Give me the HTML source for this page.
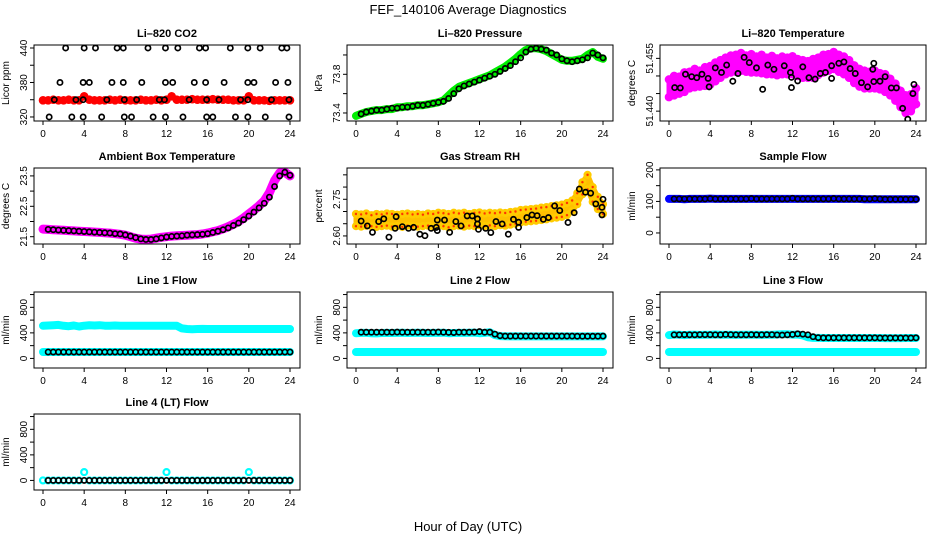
<!DOCTYPE html>
<html><head><meta charset="utf-8"><style>
html,body{margin:0;padding:0;background:#fff;}
svg{display:block;font-family:"Liberation Sans",Arial,sans-serif;}
</style></head><body>
<svg id="chart" width="936" height="540" viewBox="0 0 936 540" xmlns="http://www.w3.org/2000/svg">
<rect width="936" height="540" fill="#fff"/>
<text x="468" y="14" text-anchor="middle" font-size="13">FEF_140106  Average Diagnostics</text>
<text x="468" y="531" text-anchor="middle" font-size="13">Hour of Day (UTC)</text>
</svg>
<script>
// ---- shared x ticks ----
const xTicks = [0,4,8,12,16,20,24];

// ---- CO2 ----
const co2BlackT = [2.2,4.0,5.1,7.2,7.8,10.2,11.9,13.1,15.2,15.8,18.2,19.9,21.1,23.2,23.7,
 1.65,3.9,4.5,6.7,7.8,9.6,11.9,12.6,14.7,15.8,17.6,19.9,20.5,22.6,23.8,
 1.1,3.2,3.9,6.2,7.9,9.1,11.3,11.8,14.2,15.9,17.1,19.2,19.9,22.2,23.9,
 0.6,2.8,3.9,5.7,7.9,8.6,10.7,11.9,13.6,15.9,16.5,18.7,19.9,21.6,23.9];
const co2BlackV = [440,440,440,440,440,440,440,440,440,440,440,440,440,440,440,
 380,380,380,380,380,380,380,380,380,380,380,380,380,380,380,
 350,350,350,350,350,350,350,350,350,350,350,350,350,350,350,
 320,320,320,320,320,320,320,320,320,320,320,320,320,320,320];
const co2Red = [349,349,350,349,349,350,349,349,356,350,349,349,349,350,349,350,349,349,349,350,349,349,350,349,350,356,350,350,350,351,350,350,350,351,350,350,350,349,349,349,356,349,349,349,348,349,349,349,349];

// ---- Pressure ----
const presGreen = [73.37,73.39,73.41,73.42,73.43,73.43,73.44,73.44,73.46,73.46,73.47,73.47,73.48,73.48,73.49,73.50,73.51,73.53,73.58,73.63,73.67,73.69,73.71,73.73,73.75,73.77,73.79,73.82,73.85,73.88,73.92,73.96,74.01,74.05,74.07,74.07,74.06,74.04,74.01,73.98,73.95,73.94,73.94,73.95,73.96,74.00,74.03,73.98,73.96];
const presBlack = [73.39,73.41,73.42,73.43,73.43,73.44,73.45,73.45,73.46,73.46,73.47,73.48,73.48,73.49,73.50,73.51,73.52,73.55,73.60,73.65,73.68,73.70,73.72,73.74,73.76,73.78,73.80,73.83,73.86,73.89,73.93,73.97,74.03,74.06,74.07,74.06,74.05,74.02,74.00,73.96,73.94,73.93,73.94,73.95,73.97,74.02,74.00,73.97];

// ---- Li-820 Temperature ----
const tempHi = [51.4490,51.4500,51.4498,51.4510,51.4512,51.4520,51.4515,51.4525,51.4528,51.4538,51.4545,51.4552,51.4558,51.4560,51.4565,51.4558,51.4562,51.4555,51.4560,51.4552,51.4557,51.4550,51.4555,51.4552,51.4556,51.4548,51.4545,51.4542,51.4548,51.4552,51.4560,51.4562,51.4568,51.4560,51.4555,51.4545,51.4530,51.4520,51.4515,51.4512,51.4515,51.4508,51.4505,51.4492,51.4478,51.4458,51.4445,51.4448,51.4465];
const tempLo = [51.4440,51.4445,51.4450,51.4455,51.4465,51.4468,51.4470,51.4472,51.4475,51.4485,51.4495,51.4505,51.4510,51.4512,51.4515,51.4512,51.4510,51.4510,51.4508,51.4505,51.4505,51.4502,51.4505,51.4505,51.4505,51.4500,51.4495,51.4495,51.4495,51.4503,51.4510,51.4515,51.4520,51.4512,51.4505,51.4495,51.4480,51.4470,51.4465,51.4465,51.4465,51.4462,51.4455,51.4445,51.4430,51.4412,51.4395,51.4400,51.4420];
const tempBlackT = [0.55,1.1,1.6,2.2,2.7,3.2,3.8,3.9,4.5,5.1,5.6,6.2,6.7,7.3,7.8,8.5,9.1,9.6,10.2,11.2,11.8,11.9,11.9,12.5,13.0,13.6,14.2,14.7,15.2,15.8,15.8,16.5,17.0,17.6,18.1,18.7,19.3,19.8,19.9,19.9,20.5,21.0,21.6,22.1,22.7,23.2,23.7,23.8];
const tempBlackV = [51.4467,51.4466,51.4505,51.4498,51.4495,51.4505,51.4493,51.4469,51.4523,51.4510,51.4531,51.4485,51.4507,51.4553,51.4538,51.4523,51.4462,51.4531,51.4519,51.4529,51.4510,51.4496,51.4467,51.4486,51.4526,51.4495,51.4491,51.4507,51.4510,51.4493,51.4529,51.4536,51.4540,51.4521,51.4507,51.4481,51.4469,51.4519,51.4536,51.4484,51.4485,51.4498,51.4466,51.4466,51.4408,51.4377,51.4450,51.4476];

// ---- Ambient Box Temperature ----
const ambMag = [21.75,21.74,21.73,21.72,21.71,21.70,21.69,21.68,21.67,21.66,21.65,21.64,21.63,21.62,21.60,21.58,21.55,21.50,21.45,21.42,21.41,21.42,21.45,21.48,21.50,21.52,21.53,21.54,21.55,21.56,21.57,21.59,21.62,21.66,21.70,21.76,21.83,21.91,22.00,22.12,22.25,22.38,22.52,22.68,22.95,23.35,23.60,23.62,23.50];
const ambBlack = [21.74,21.73,21.72,21.71,21.70,21.69,21.68,21.67,21.66,21.65,21.64,21.63,21.62,21.60,21.59,21.56,21.52,21.47,21.43,21.41,21.41,21.43,21.46,21.49,21.51,21.52,21.53,21.55,21.56,21.57,21.58,21.60,21.64,21.68,21.73,21.79,21.87,21.95,22.06,22.18,22.31,22.45,22.60,22.80,23.15,23.50,23.62,23.52];

// ---- Gas Stream RH ----
const rhHi = [2.690,2.688,2.692,2.685,2.690,2.688,2.692,2.690,2.687,2.690,2.692,2.688,2.690,2.687,2.692,2.690,2.695,2.693,2.690,2.695,2.692,2.695,2.690,2.694,2.696,2.692,2.695,2.693,2.696,2.694,2.698,2.700,2.706,2.708,2.710,2.712,2.716,2.718,2.722,2.725,2.728,2.735,2.745,2.775,2.820,2.850,2.800,2.760,2.730];
const rhLo = [2.640,2.638,2.642,2.640,2.637,2.640,2.642,2.638,2.640,2.637,2.642,2.640,2.638,2.640,2.642,2.637,2.642,2.640,2.635,2.640,2.642,2.638,2.642,2.640,2.644,2.640,2.643,2.640,2.644,2.642,2.646,2.650,2.655,2.658,2.660,2.662,2.665,2.668,2.672,2.675,2.678,2.685,2.700,2.730,2.770,2.790,2.740,2.710,2.690];
const rhBlackT = [0.5,1.1,1.6,2.2,2.7,3.2,3.8,3.9,4.5,5.1,5.6,6.2,6.7,7.3,7.8,7.9,7.9,8.6,9.1,9.7,10.2,10.8,11.3,11.8,11.8,11.9,12.6,13.1,13.6,14.2,14.8,15.3,15.8,15.8,16.6,17.1,17.6,18.2,18.7,19.3,19.8,20.6,21.2,21.7,22.3,22.8,23.3,24.0,23.9,23.9];
const rhBlackV = [2.661,2.641,2.615,2.659,2.670,2.595,2.631,2.679,2.638,2.631,2.635,2.607,2.601,2.631,2.635,2.665,2.622,2.665,2.615,2.659,2.641,2.682,2.682,2.670,2.649,2.627,2.631,2.614,2.659,2.649,2.607,2.668,2.656,2.635,2.675,2.686,2.683,2.668,2.675,2.723,2.704,2.655,2.695,2.792,2.779,2.775,2.731,2.750,2.717,2.686];

// ---- Sample Flow ----
const sampleBlue = [108,108,108,107,108,108,108,108,109,108,108,108,108,108,108,108,108,108,108,108,108,108,108,108,108,108,108,108,108,108,108,108,108,108,108,108,108,108,107,107,107,107,107,107,107,107,107,107,107];
const sampleBlack = [108,108,108,108,108,108,108,109,108,108,108,108,108,108,108,109,108,108,108,108,108,108,108,110,108,108,108,108,108,108,108,109,108,108,108,108,108,108,108,109,108,107,107,107,107,107,107,107];

// ---- Line flows ----
const line1CyanHi = [510,515,520,525,510,505,515,500,512,518,515,520,512,510,515,510,512,510,512,510,510,510,510,510,510,510,510,470,460,458,460,462,460,460,460,460,460,460,460,460,460,460,460,460,460,460,460,460,460];
const line1CyanLo = [100,100,100,100,100,100,100,100,100,100,100,100,100,100,100,100,100,100,100,100,100,100,100,100,100,100,100,100,100,100,100,100,100,100,100,100,100,100,100,100,100,100,100,100,100,100,100,100,100];
const line1Black = [100,100,100,100,100,100,100,100,100,100,100,100,100,100,100,100,100,100,100,100,100,100,100,100,100,100,100,100,100,100,100,100,100,100,100,100,100,100,100,100,100,100,100,100,100,100,100,100];
const line2CyanHi = [395,400,400,395,392,398,400,398,400,402,398,400,402,400,398,400,400,402,395,398,400,400,402,405,395,400,410,365,350,348,345,348,345,345,345,345,345,345,345,345,345,345,345,345,345,345,345,345,345];
const line2CyanLo = [100,100,100,100,100,100,100,100,100,100,100,100,100,100,100,100,100,100,100,100,100,100,100,100,100,100,100,100,100,100,100,100,100,100,100,100,100,100,100,100,100,100,100,100,100,100,100,100,100];
const line2Black = [410,410,410,410,410,410,410,412,410,410,410,410,410,410,410,412,410,408,405,410,410,410,412,420,410,410,380,355,350,350,350,350,350,350,350,350,350,350,350,350,350,350,348,348,348,348,348,350];
const line3CyanHi = [365,375,370,365,370,372,368,370,372,375,370,372,370,368,370,372,370,370,368,372,372,375,378,380,372,375,360,330,322,322,320,320,320,320,320,320,320,320,320,320,320,320,318,318,318,318,320,320,320];
const line3CyanLo = [100,100,100,100,100,100,100,100,100,100,100,100,100,100,100,100,100,100,100,100,100,100,100,100,100,100,100,100,100,100,100,100,100,100,100,100,100,100,100,100,100,100,100,100,100,100,100,100,100];
const line3Black = [370,370,372,370,370,372,372,372,370,370,375,372,370,370,370,372,370,370,372,372,368,365,370,375,385,380,370,340,325,322,322,322,322,322,322,322,322,322,322,322,320,320,320,320,320,320,320,322];
const line4Cyan = [0,0,0,0,0,0,0,0,130,0,0,0,0,0,0,0,0,0,0,0,0,0,0,0,130,0,0,0,0,0,0,0,0,0,0,0,0,0,0,0,130,0,0,0,0,0,0,0,0];
const line4Black = [0,0,0,0,0,0,0,0,0,0,0,0,0,0,0,0,0,0,0,0,0,0,0,0,0,0,0,0,0,0,0,0,0,0,0,0,0,0,0,0,0,0,0,0,0,0,0,0];

// ---- y ticks per panel ----
const co2Ticks = [320,350,380,410,440], co2Labels = ["320","","380","","440"];
const presTicks = [73.4,73.6,73.8,74.0], presLabels = ["73.4","","73.8",""];
const tempTicks = [51.440,51.445,51.450,51.455], tempLabels = ["51.440","","","51.455"];
const ambTicks = [21.5,22,22.5,23,23.5], ambLabels = ["21.5","","22.5","","23.5"];
const rhTicks = [2.60,2.65,2.70,2.75,2.80,2.85], rhLabels = ["2.60","","","2.75","",""];
const sampleTicks = [0,50,100,150,200], sampleLabels = ["0","","100","","200"];
const flowTicks = [0,200,400,600,800,1000], flowLabels = ["0","","400","","800",""];

const NS = "http://www.w3.org/2000/svg";
const svg = document.getElementById('chart');
function mk(tag, attrs, parent){ const e=document.createElementNS(NS,tag); for(const k in attrs) e.setAttribute(k,attrs[k]); (parent||svg).appendChild(e); return e; }

const colLeft = [34,347,660], rowTop = [45,168,292,414], BW = 266, BH = 76;

function makePanel(name, title, col, row, ylab, ylo, yhi, ticks, labels){
  const L = colLeft[col], T = rowTop[row];
  const g = mk('g', {});
  
  
  const xs = h => L + 9 + h * 247 / 24;
  const ys = v => T + BH - (v - ylo) / (yhi - ylo) * BH;
  const t = mk('text', {x: L + BW/2, y: T - 8, 'text-anchor':'middle', 'font-size':11, 'font-weight':'bold'}, g);
  t.textContent = title;
  
  
  const yl = mk('text', {transform:`translate(${L-25},${T+BH/2}) rotate(-90)`, 'text-anchor':'middle', 'font-size':10}, g);
  yl.textContent = ylab;
  
  
  const xa = mk('g', {}, g);
  
  
  xTicks.forEach(h => {
    mk('line', {x1: xs(h), x2: xs(h), y1: T+BH, y2: T+BH+4, stroke:'#000'}, xa);
    const tx = mk('text', {x: xs(h), y: T+BH+16, 'text-anchor':'middle', 'font-size':10}, xa);
    tx.textContent = String(h);
  });
  const ya = mk('g', {}, g);
  
  
  ticks.forEach((v,i) => {
    const y = ys(v);
    mk('line', {x1: L-4, x2: L, y1: y, y2: y, stroke:'#000'}, ya);
    if (labels[i]) {
      const tx = mk('text', {transform:`translate(${L-7},${y}) rotate(-90)`, 'text-anchor':'middle', 'font-size':10}, ya);
      tx.textContent = labels[i];
    }
  });
  const clip = 'clip-' + name;
  const cp = mk('clipPath', {id: clip}, g);
  mk('rect', {x: L, y: T, width: BW, height: BH}, cp);
  const marks = mk('g', {'clip-path': `url(#${clip})`}, g);
  
  
  const box = mk('rect', {x: L, y: T, width: BW, height: BH, fill:'none', stroke:'#000'}, g);
  
  
  return {xs, ys, marks};
}

// dense band: thick polyline through points + circles
function band(p, sname, times, vals, color, w){
  const pts = vals.map((v,i) => p.xs(times[i]).toFixed(1) + ',' + p.ys(v).toFixed(1)).join(' ');
  const pl = mk('polyline', {points: pts, fill:'none', stroke: color, 'stroke-width': w, 'stroke-linejoin':'round', 'stroke-linecap':'round'}, p.marks);
  
  
}
// cloud: filled area between upper and lower arrays
function cloud(p, sname, times, hi, lo, color){
  const up = hi.map((v,i) => p.xs(times[i]).toFixed(1) + ',' + p.ys(v).toFixed(1));
  const dn = lo.map((v,i) => p.xs(times[i]).toFixed(1) + ',' + p.ys(v).toFixed(1)).reverse();
  const pg = mk('polygon', {points: up.concat(dn).join(' '), fill: color, stroke: color, 'stroke-width': 5, 'stroke-linejoin':'round'}, p.marks);
  
  
}
function series(p, sname, times, vals, color, r, sw, dot){
  const gg = mk('g', {}, p.marks);
  
  
  vals.forEach((v,i) => {
    const c = mk('circle', {cx: p.xs(times[i]), cy: p.ys(v), r: r, fill:'none', stroke: color, 'stroke-width': sw}, gg);
    
    
    if (dot) mk('circle', {cx: p.xs(times[i]), cy: p.ys(v), r: 1.2, fill: dot}, gg);
  });
}
function fullTimes(n){ const a=[]; for(let i=0;i<n;i++) a.push(i*24/(n-1)); return a; }
function blackTimes(n){ const a=[]; for(let i=0;i<n;i++) a.push(0.5 + i*23.5/(n-1)); return a; }

const DR = 3, DSW = 2.6, BR = 2.6, BSW = 1.7, BW8 = 8;

let p = makePanel('co2', 'Li\u2013820 CO2', 0, 0, 'Licor ppm', 313, 445.2, co2Ticks, co2Labels);
band(p, 'co2-red', fullTimes(co2Red.length), co2Red, '#ff0000', 6);
series(p, 'co2-red-series', fullTimes(co2Red.length), co2Red, '#ff0000', DR, DSW);
series(p, 'co2-black-series', co2BlackT, co2BlackV, '#000', BR, BSW);

p = makePanel('pressure', 'Li\u2013820 Pressure', 1, 0, 'kPa', 73.317, 74.103, presTicks, presLabels);
band(p, 'pressure-green', fullTimes(presGreen.length), presGreen, '#00ee00', BW8);
series(p, 'pressure-black-series', blackTimes(presBlack.length), presBlack, '#000', BR, BSW);

p = makePanel('li820-temp', 'Li\u2013820 Temperature', 2, 0, 'degrees C', 51.4372, 51.4588, tempTicks, tempLabels);
cloud(p, 'temp-magenta-cloud', fullTimes(tempHi.length), tempHi, tempLo, '#ff00ff');
series(p, 'temp-magenta-upper', fullTimes(tempHi.length), tempHi, '#ff00ff', DR, DSW);
series(p, 'temp-magenta-lower', fullTimes(tempLo.length), tempLo, '#ff00ff', DR, DSW);
series(p, 'temp-black-series', tempBlackT, tempBlackV, '#000', BR, BSW);

p = makePanel('ambient-temp', 'Ambient Box Temperature', 0, 1, 'degrees C', 21.26, 23.76, ambTicks, ambLabels);
band(p, 'ambient-magenta', fullTimes(ambMag.length), ambMag, '#ff00ff', 9);
series(p, 'ambient-black-series', blackTimes(ambBlack.length), ambBlack, '#000', BR, BSW);

p = makePanel('gas-rh', 'Gas Stream RH', 1, 1, 'percent', 2.567, 2.878, rhTicks, rhLabels);
cloud(p, 'rh-cloud', fullTimes(rhHi.length), rhHi, rhLo, '#ffc000');
series(p, 'rh-upper-series', fullTimes(rhHi.length), rhHi, '#ffcc00', DR, 2.2, '#ff3300');
series(p, 'rh-lower-series', fullTimes(rhLo.length), rhLo, '#ffcc00', DR, 2.2, '#ff3300');
series(p, 'rh-black-series', rhBlackT, rhBlackV, '#000', BR, BSW);

p = makePanel('sample-flow', 'Sample Flow', 2, 1, 'ml/min', -35, 206, sampleTicks, sampleLabels);
band(p, 'sample-blue', fullTimes(sampleBlue.length), sampleBlue, '#0000ff', BW8);
series(p, 'sample-black-series', blackTimes(sampleBlack.length), sampleBlack, '#000', BR, BSW);

p = makePanel('line1-flow', 'Line 1 Flow', 0, 2, 'ml/min', -150, 1040, flowTicks, flowLabels);
band(p, 'line1-cyan-high', fullTimes(line1CyanHi.length), line1CyanHi, '#00ffff', BW8);
band(p, 'line1-cyan-low', fullTimes(line1CyanLo.length), line1CyanLo, '#00ffff', BW8);
series(p, 'line1-black-series', blackTimes(line1Black.length), line1Black, '#000', BR, BSW);

p = makePanel('line2-flow', 'Line 2 Flow', 1, 2, 'ml/min', -150, 1040, flowTicks, flowLabels);
band(p, 'line2-cyan-high', fullTimes(line2CyanHi.length), line2CyanHi, '#00ffff', BW8);
band(p, 'line2-cyan-low', fullTimes(line2CyanLo.length), line2CyanLo, '#00ffff', BW8);
series(p, 'line2-black-series', blackTimes(line2Black.length), line2Black, '#000', BR, BSW);

p = makePanel('line3-flow', 'Line 3 Flow', 2, 2, 'ml/min', -150, 1040, flowTicks, flowLabels);
band(p, 'line3-cyan-high', fullTimes(line3CyanHi.length), line3CyanHi, '#00ffff', BW8);
band(p, 'line3-cyan-low', fullTimes(line3CyanLo.length), line3CyanLo, '#00ffff', BW8);
series(p, 'line3-black-series', blackTimes(line3Black.length), line3Black, '#000', BR, BSW);

p = makePanel('line4-flow', 'Line 4 (LT) Flow', 0, 3, 'ml/min', -150, 1040, flowTicks, flowLabels);
series(p, 'line4-cyan-series', fullTimes(line4Cyan.length), line4Cyan, '#00ffff', DR, 2.2);
series(p, 'line4-black-series', blackTimes(line4Black.length), line4Black, '#000', BR, BSW);
</script>
</body></html>
